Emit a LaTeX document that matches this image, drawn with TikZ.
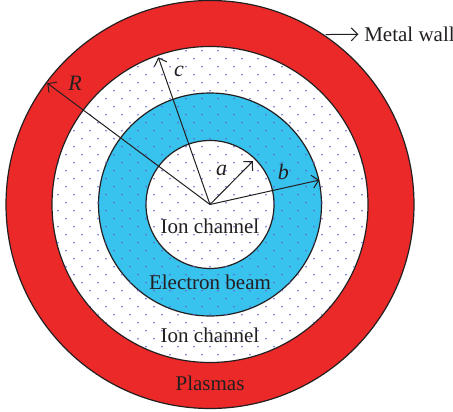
\documentclass[tikz,border=0pt]{standalone}
\usepackage{fontspec}
\setmainfont{Liberation Serif}
\usepackage{xcolor}
\usepackage{tikz}
\usetikzlibrary{arrows.meta}

\definecolor{wallred}{RGB}{236,41,41}
\definecolor{beamblue}{RGB}{56,194,238}
\definecolor{dotblue}{RGB}{100,100,210}
\definecolor{inkgray}{RGB}{35,31,32}

\begin{document}
\begin{tikzpicture}[
        x=0.5pt, y=0.5pt,
        ring/.style={draw=inkgray, line width=0.6pt},
        arr/.style={draw=inkgray, line width=0.5pt, -{Straight Barb[length=3.2pt, width=6.5pt]}},
        lbl/.style={font=\fontsize{10.5}{12}\selectfont, text=inkgray, inner sep=0pt},
        sym/.style={font=\fontsize{11}{12}\selectfont\itshape, text=inkgray, inner sep=0pt}
        ]

        \useasboundingbox (-210,-206.5) rectangle (243,204.5);

        %% Centre
        \coordinate (O) at (0,0);

        %% Rings (wall, ion channel, beam, inner channel)
        \fill[wallred, ring] (O) circle (204);
        \fill[white, ring]   (O) circle (158);
        \fill[beamblue, ring] (O) circle (111.5);
        \fill[white, ring]   (O) circle (64);

        %% Dotted ion background
        \begin{scope}
            \clip (O) circle (157.5);
            \foreach \m in {-10,...,10}
                \foreach \n in {-10,...,10} {
                    \fill[dotblue] (16*\m, 16*\n+1.8) circle (0.9);
                    \fill[dotblue] (16*\m+8, 16*\n+9.8) circle (0.9);
                }
        \end{scope}

        %% Radii
        \coordinate (Rtip) at (143.3:203);
        \coordinate (ctip) at (109.35:156);
        \coordinate (atip) at (45.3:61);
        \coordinate (btip) at (12.6:112);
        \draw[arr] (O) -- (Rtip);
        \draw[arr] (O) -- (ctip);
        \draw[arr] (O) -- (atip);
        \draw[arr] (O) -- (btip);

        \node[sym] (Rlbl) at (-135,121.2) {R};
        \node[sym] (clbl) at (-31,133.5)  {c};
        \node[sym] (albl) at (11.7,34.5)  {a};
        \node[sym] (blbl) at (73.3,32.8)  {b};

        %% Region names
        \node[lbl] (inner)  at (0,-22.2)  {Ion channel};
        \node[lbl] (beam)   at (0,-78.2)  {Electron beam};
        \node[lbl] (outer)  at (0,-130.5) {Ion channel};
        \node[lbl] (plasma) at (0,-178.8) {Plasmas};

        %% Metal wall pointer
        \coordinate (wallpt) at (55.8:205.5);
        \node[lbl, anchor=west, inner sep=2.8pt] (wall) at (148.3,170.2) {Metal wall};
        \draw[arr] (wallpt) -- (wall.west);

    \end{tikzpicture}
\end{document}
